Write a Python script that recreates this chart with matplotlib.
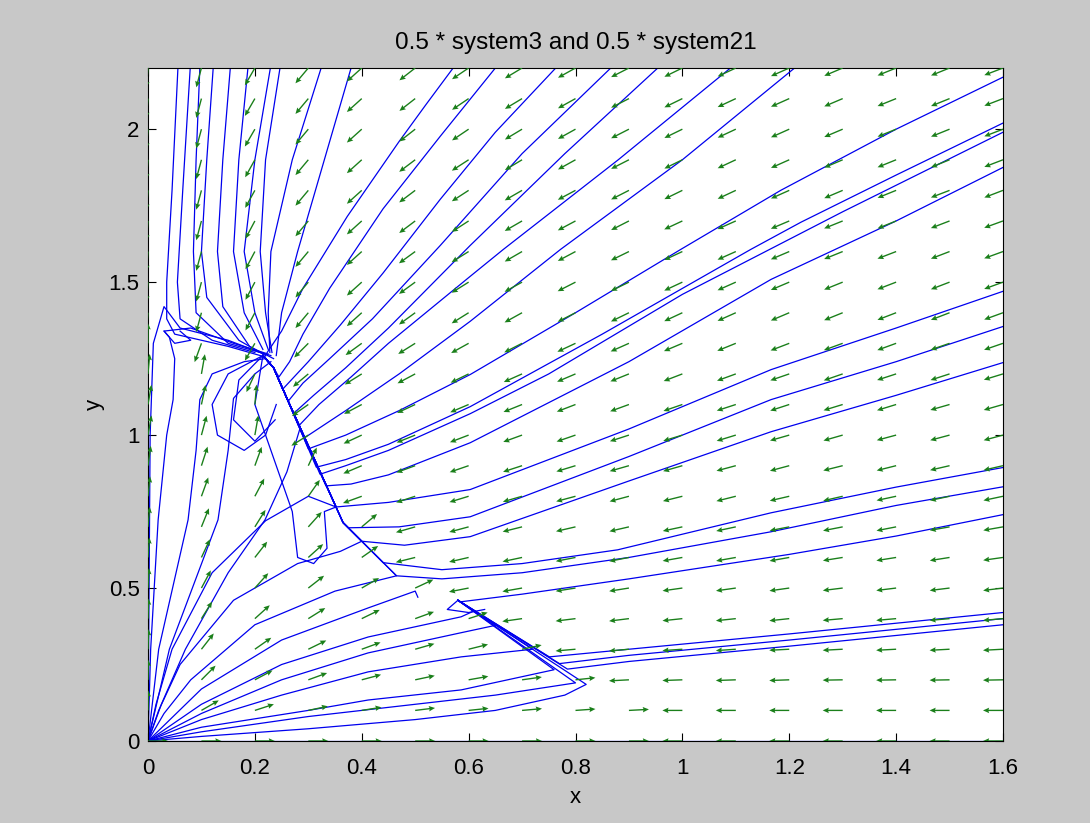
import numpy as np
import matplotlib
matplotlib.use('Agg')
import matplotlib.pyplot as plt
from matplotlib.ticker import FormatStrFormatter

plt.rcParams['font.family'] = ['Liberation Sans', 'DejaVu Sans']

# quiver grid (x columns, y rows from top to bottom)
grid_x = [0.0, 0.1, 0.2, 0.3, 0.4, 0.5, 0.6, 0.7, 0.8, 0.9, 1.0, 1.1, 1.2, 1.3, 1.4, 1.5, 1.6]
grid_y = [2.2, 2.1, 2.0, 1.9, 1.8, 1.7, 1.6, 1.5, 1.4, 1.3, 1.2, 1.1, 1.0, 0.9,
          0.8, 0.7, 0.6, 0.5, 0.4, 0.3, 0.2, 0.1, 0.0]

# arrow direction on screen (degrees), one row per grid_y
arrow_angle = [
    [265, 255, 240, 230, 222, 218, 214, 211, 209, 207, 206, 205, 204, 203, 202, 202, 201],
    [265, 255, 240, 230, 222, 218, 214, 211, 209, 207, 206, 205, 204, 203, 202, 202, 201],
    [265, 255, 240, 230, 222, 218, 214, 211, 209, 207, 206, 205, 204, 203, 202, 202, 201],
    [265, 255, 241, 230, 222, 217, 213, 211, 209, 207, 206, 205, 204, 203, 202, 202, 201],
    [265, 255, 241, 230, 222, 217, 213, 210, 208, 207, 206, 205, 204, 203, 202, 201, 201],
    [265, 255, 242, 230, 222, 217, 213, 210, 208, 207, 205, 204, 203, 202, 202, 201, 200],
    [265, 255, 242, 230, 222, 216, 212, 210, 208, 206, 205, 204, 203, 202, 201, 201, 200],
    [265, 255, 242, 230, 222, 216, 212, 209, 207, 206, 205, 204, 203, 202, 201, 201, 200],
    [265, 255, 242, 230, 222, 216, 212, 209, 207, 206, 205, 204, 203, 202, 201, 201, 200],
    [90, 250, 240, 225, 216, 212, 209, 207, 205, 204, 203, 202, 201, 200, 200, 199, 199],
    [85, 80, 245, 220, 212, 208, 206, 204, 203, 202, 201, 200, 199, 199, 198, 198, 197],
    [80, 78, 85, 215, 208, 205, 203, 202, 201, 200, 199, 198, 198, 197, 197, 196, 196],
    [80, 75, 80, 212, 205, 202, 201, 200, 199, 198, 197, 197, 196, 196, 195, 195, 195],
    [82, 72, 70, 65, 203, 200, 199, 198, 197, 196, 196, 195, 195, 194, 194, 193, 193],
    [84, 70, 62, 55, 200, 198, 197, 196, 195, 195, 194, 194, 193, 193, 192, 192, 192],
    [85, 68, 58, 48, 40, 196, 195, 194, 193, 193, 192, 192, 191, 191, 191, 190, 190],
    [86, 65, 52, 42, 35, 194, 193, 192, 191, 191, 190, 190, 190, 189, 189, 189, 188],
    [87, 62, 48, 38, 30, 25, 191, 190, 189, 189, 188, 188, 188, 187, 187, 187, 187],
    [88, 58, 42, 32, 26, 20, 18, 188, 187, 187, 186, 186, 186, 185, 185, 185, 185],
    [88, 52, 35, 26, 20, 16, 14, 12, 185, 185, 184, 184, 183, 183, 183, 183, 183],
    [89, 45, 28, 20, 15, 12, 10, 8, 6, 183, 182, 182, 182, 181, 181, 181, 181],
    [89, 30, 18, 12, 9, 7, 6, 5, 4, 3, 180, 180, 180, 180, 180, 180, 180],
    [0, 0, 0, 0, 0, 0, 0, 0, 0, 0, 180, 180, 180, 180, 180, 180, 180],
]

# sliding segments that trajectories run along
s1_path = [(0.465, 0.54), (0.365, 0.714), (0.26, 1.12), (0.235, 1.22), (0.215, 1.26)]
s2_path = [(0.82, 0.185), (0.58, 0.46)]

# trajectories coming in from the top edge and the right edge, ending on s1
far_lines = [
    [(0.571, 2.2), (0.52, 2.08), (0.47, 1.96), (0.373, 1.715), (0.29, 1.48), (0.25, 1.34), (0.223, 1.27)],
    [(0.650, 2.2), (0.547, 1.977), (0.44, 1.74), (0.34, 1.48), (0.29, 1.33), (0.265, 1.24), (0.245, 1.19)],
    [(0.763, 2.2), (0.65, 1.99), (0.547, 1.771), (0.44, 1.53), (0.36, 1.36), (0.30, 1.24), (0.252, 1.15)],
    [(0.866, 2.2), (0.70, 1.92), (0.547, 1.62), (0.42, 1.38), (0.34, 1.25), (0.29, 1.17), (0.262, 1.11)],
    [(0.954, 2.2), (0.78, 1.92), (0.603, 1.62), (0.45, 1.35), (0.37, 1.22), (0.31, 1.13), (0.272, 1.07)],
    [(1.09, 2.2), (0.88, 1.9), (0.665, 1.607), (0.603, 1.519), (0.45, 1.3), (0.38, 1.19), (0.32, 1.1), (0.282, 1.03)],
    [(1.21, 2.2), (1.0, 1.9), (0.772, 1.607), (0.603, 1.372), (0.47, 1.2), (0.37, 1.08), (0.292, 0.99)],
    [(1.6, 2.17), (1.4, 2.0), (1.184, 1.80), (0.997, 1.607), (0.8, 1.40), (0.603, 1.198), (0.47, 1.08),
     (0.37, 1.0), (0.30, 0.955)],
    [(1.6, 2.02), (1.4, 1.85), (1.222, 1.696), (1.128, 1.607), (0.85, 1.33), (0.603, 1.093), (0.45, 0.97),
     (0.37, 0.92), (0.315, 0.895)],
    [(1.6, 1.99), (1.3, 1.73), (1.0, 1.46), (0.75, 1.2), (0.603, 1.07), (0.45, 0.95), (0.37, 0.9),
     (0.322, 0.872)],
    [(1.6, 1.875), (1.4, 1.70), (1.166, 1.509), (0.9, 1.24), (0.603, 0.975), (0.45, 0.87), (0.38, 0.84),
     (0.333, 0.834)],
    [(1.6, 1.47), (1.4, 1.35), (1.166, 1.214), (0.9, 1.02), (0.603, 0.822), (0.45, 0.78), (0.352, 0.765)],
    [(1.6, 1.355), (1.4, 1.24), (1.166, 1.116), (0.9, 0.93), (0.603, 0.733), (0.47, 0.70), (0.375, 0.697)],
    [(1.6, 1.237), (1.4, 1.13), (1.166, 1.011), (0.9, 0.85), (0.603, 0.668), (0.48, 0.64), (0.40, 0.653)],
    [(1.6, 0.894), (1.4, 0.83), (1.166, 0.746), (0.879, 0.625), (0.7, 0.58), (0.55, 0.56), (0.44, 0.583)],
    [(1.6, 0.831), (1.4, 0.77), (1.166, 0.684), (0.9, 0.6), (0.7, 0.55), (0.55, 0.53), (0.465, 0.54)],
]

# trajectories from the origin and from the left side that end on s1
left_lines = [
    [(0, 0), (0.03, 0.09), (0.08, 0.2), (0.2, 0.38), (0.35, 0.49), (0.465, 0.54)],
    [(0, 0), (0.02, 0.1), (0.06, 0.25), (0.16, 0.46), (0.28, 0.58), (0.36, 0.62), (0.40, 0.653)],
    [(0, 0), (0.015, 0.12), (0.045, 0.3), (0.12, 0.55), (0.22, 0.72), (0.3, 0.8), (0.352, 0.765)],
    [(0, 0), (0.025, 0.12), (0.07, 0.3), (0.15, 0.55), (0.219, 0.723), (0.26, 0.88), (0.285, 1.025)],
    [(0.215, 1.26), (0.2, 1.1), (0.24, 0.9), (0.27, 0.75), (0.28, 0.6), (0.31, 0.58),
     (0.335, 0.63), (0.33, 0.75), (0.352, 0.765)],
]

# trajectories from the origin that climb to the knot near (0.22, 1.25)
up_lines = [
    [(0, 0), (0.005, 0.3), (0.019, 0.723), (0.035, 1.0), (0.047, 1.116), (0.05, 1.25),
     (0.04, 1.32), (0.03, 1.34), (0.08, 1.35), (0.16, 1.30), (0.225, 1.265)],
    [(0, 0), (0.02, 0.3), (0.075, 0.723), (0.09, 0.95), (0.097, 1.116), (0.12, 1.2),
     (0.18, 1.24), (0.22, 1.25)],
    [(0, 0), (0.04, 0.3), (0.131, 0.723), (0.15, 0.95), (0.16, 1.12), (0.2, 1.2), (0.23, 1.24)],
    [(0, 0), (0.002, 0.5), (0.004, 1.0), (0.01, 1.3), (0.03, 1.42), (0.06, 1.35), (0.15, 1.31),
     (0.21, 1.27)],
    [(0.215, 1.26), (0.15, 1.2), (0.12, 1.1), (0.13, 1.0), (0.18, 0.95), (0.22, 1.0), (0.24, 1.1)],
    [(0.215, 1.26), (0.17, 1.18), (0.16, 1.05), (0.2, 0.98), (0.238, 1.05)],
    [(0.03, 1.34), (0.05, 1.30), (0.08, 1.31), (0.06, 1.34)],
]

# trajectories from the top-left corner down to the knot
top_lines = [
    [(0.056, 2.2), (0.045, 1.8), (0.035, 1.5), (0.035, 1.38), (0.05, 1.33), (0.15, 1.29), (0.22, 1.255)],
    [(0.079, 2.2), (0.065, 1.8), (0.055, 1.5), (0.06, 1.38), (0.12, 1.31), (0.2, 1.27)],
    [(0.097, 2.2), (0.09, 1.9), (0.085, 1.6), (0.09, 1.4), (0.15, 1.3), (0.23, 1.26)],
    [(0.122, 2.2), (0.11, 1.9), (0.1, 1.6), (0.11, 1.45), (0.17, 1.31), (0.22, 1.26)],
    [(0.154, 2.2), (0.14, 1.9), (0.13, 1.6), (0.14, 1.42), (0.19, 1.29), (0.235, 1.25)],
    [(0.187, 2.2), (0.17, 1.9), (0.16, 1.6), (0.18, 1.4), (0.215, 1.28)],
    [(0.229, 2.2), (0.2, 1.9), (0.18, 1.6), (0.2, 1.4), (0.225, 1.28)],
    [(0.247, 2.2), (0.22, 1.9), (0.21, 1.6), (0.22, 1.4), (0.232, 1.27)],
    [(0.324, 2.2), (0.27, 1.9), (0.23, 1.6), (0.225, 1.4), (0.228, 1.27)],
    [(0.380, 2.2), (0.33, 1.9), (0.28, 1.6), (0.25, 1.4), (0.24, 1.26)],
]

# trajectories ending on s2 (from the right edge and from the origin)
low_lines = [
    [(1.6, 0.42), (1.2, 0.35), (0.9, 0.30), (0.751, 0.275)],
    [(1.6, 0.40), (1.2, 0.33), (0.9, 0.28), (0.77, 0.253)],
    [(1.6, 0.38), (1.2, 0.31), (0.9, 0.26), (0.785, 0.235)],
    [(1.6, 0.74), (1.4, 0.67), (1.2, 0.61), (0.9, 0.53), (0.7, 0.48), (0.585, 0.455)],
    [(0, 0), (0.1, 0.015), (0.3, 0.04), (0.5, 0.07), (0.65, 0.1), (0.78, 0.15), (0.82, 0.185)],
    [(0, 0), (0.1, 0.03), (0.3, 0.08), (0.5, 0.12), (0.65, 0.15), (0.80, 0.19)],
    [(0, 0), (0.1, 0.045), (0.3, 0.1), (0.412, 0.134), (0.586, 0.167), (0.76, 0.233)],
    [(0, 0), (0.1, 0.07), (0.25, 0.15), (0.412, 0.226), (0.586, 0.275), (0.72, 0.30)],
    [(0, 0), (0.1, 0.09), (0.25, 0.2), (0.412, 0.288), (0.586, 0.354), (0.65, 0.378)],
    [(0, 0), (0.1, 0.12), (0.25, 0.25), (0.412, 0.34), (0.586, 0.406), (0.61, 0.425)],
]

# lines that just run out
free_lines = [
    [(0, 0), (1.6, 0)],
    [(0, 0), (0.1, 0.17), (0.25, 0.33), (0.412, 0.435), (0.5, 0.49), (0.505, 0.47)],
    [(0.58, 0.46), (0.56, 0.43), (0.6, 0.42), (0.63, 0.43)],
]


def slide(line, path):
    # continue a trajectory along a sliding segment, towards its upper end
    end_y = line[-1][1]
    return line + [p for p in path if p[1] > end_y + 1e-3]


fig = plt.figure(figsize=(10.9, 8.23), dpi=100, facecolor='#c8c8c8')
ax = fig.add_axes([148 / 1090, 82 / 823, 855 / 1090, 673 / 823])
ax.set_facecolor('white')

blue = '#0000ee'
all_lines = ([slide(l, s1_path) for l in far_lines + left_lines]
             + up_lines + top_lines
             + [slide(l, s2_path) for l in low_lines]
             + free_lines)
for line in all_lines:
    xs, ys = zip(*line)
    ax.plot(xs, ys, color=blue, lw=0.9, zorder=2)

# direction field
X, Y = np.meshgrid(grid_x, grid_y)
ang = np.radians(np.array(arrow_angle, dtype=float))
ax.quiver(X, Y, np.cos(ang), np.sin(ang), angles='uv', scale_units='inches', scale=5.0,
          pivot='tail', color='#1a7f1a', width=0.0016, headwidth=4, headlength=4.5,
          headaxislength=4, zorder=3)

ax.set_xlim(0, 1.6)
ax.set_ylim(0, 2.2)
ax.set_xticks([0, 0.2, 0.4, 0.6, 0.8, 1.0, 1.2, 1.4, 1.6])
ax.set_yticks([0, 0.5, 1.0, 1.5, 2.0])
ax.xaxis.set_major_formatter(FormatStrFormatter('%g'))
ax.yaxis.set_major_formatter(FormatStrFormatter('%g'))
ax.tick_params(direction='in', top=True, right=True, length=6, width=0.8, labelsize=16)
ax.tick_params(axis='x', pad=12)
ax.tick_params(axis='y', pad=6)
for s in ax.spines.values():
    s.set_linewidth(0.8)

ax.set_title('0.5 * system3 and 0.5 * system21', fontsize=17.5, pad=14)
ax.set_xlabel('x', fontsize=16, labelpad=6)
ax.set_ylabel('y', fontsize=16, labelpad=3)

fig.savefig('out.png', dpi=100, facecolor=fig.get_facecolor())
